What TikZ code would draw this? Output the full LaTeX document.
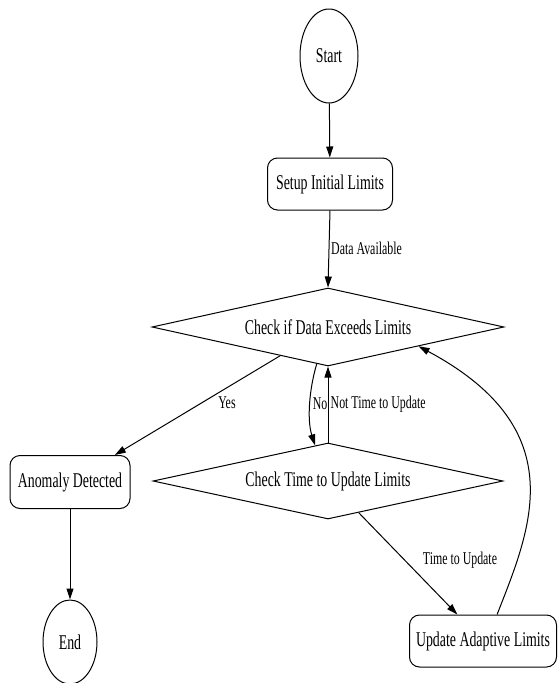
\documentclass[tikz,border=0pt]{standalone}
\usepackage{fontspec}
\setmainfont{Liberation Serif}[FakeStretch=0.66]
\usetikzlibrary{shapes.geometric,arrows.meta}
\begin{document}
\begin{tikzpicture}[x=1pt,y=-1pt,
  every node/.style={font=\fontsize{21}{25}\selectfont, inner sep=0pt},
  oval/.style={draw, ellipse, line width=1pt},
  box/.style={draw, rectangle, rounded corners=10pt, line width=1pt},
  decision/.style={draw, diamond, aspect=4.5, line width=1pt},
  lbl/.style={font=\fontsize{18}{21}\selectfont, inner sep=0pt},
  conn/.style={line width=1pt, -{Triangle[length=11pt,width=7pt]}}
]
\useasboundingbox (0,0) rectangle (558,683);
\node[oval, minimum width=58pt, minimum height=94pt] (start) at (329,56) {Start};
\node[box, minimum width=125pt, minimum height=52pt] (setup) at (330,184) {Setup Initial Limits};
\node[decision, minimum width=352pt, minimum height=78pt] (d1) at (328,327) {Check if Data Exceeds Limits};
\node[decision, minimum width=350pt, minimum height=76pt] (d2) at (328,481) {Check Time to Update Limits};
\node[box, minimum width=120pt, minimum height=53pt] (anom) at (70,482) {Anomaly Detected};
\node[oval, minimum width=54pt, minimum height=84pt] (endn) at (70,642) {End};
\node[box, minimum width=147pt, minimum height=52pt] (upd) at (483,641) {Update Adaptive Limits};

\draw[conn] (start) -- (setup);
\draw[conn] (setup.south) -- (d1.north);
\draw[conn] (d1) -- (anom);
\draw[conn] (anom) -- (endn);
\draw[conn] (d1.253) .. controls (309,390) and (307,420) .. (d2.110);
\draw[conn] (d2.north) -- (d1.south);
\draw[conn] (d2) -- (upd);
\draw[conn] (upd.62) .. controls (530,530) and (575,430) .. (d1.-12);

\node[lbl, anchor=west] (ldata) at (331,248) {Data Available};
\node[lbl] (lyes) at (227,403) {Yes};
\node[lbl, anchor=east] (lno) at (327.5,404) {No};
\node[lbl, anchor=west] (lnot) at (330.5,404) {Not Time to Update};
\node[lbl] (ltime) at (460,560) {Time to Update};
\end{tikzpicture}
\end{document}
